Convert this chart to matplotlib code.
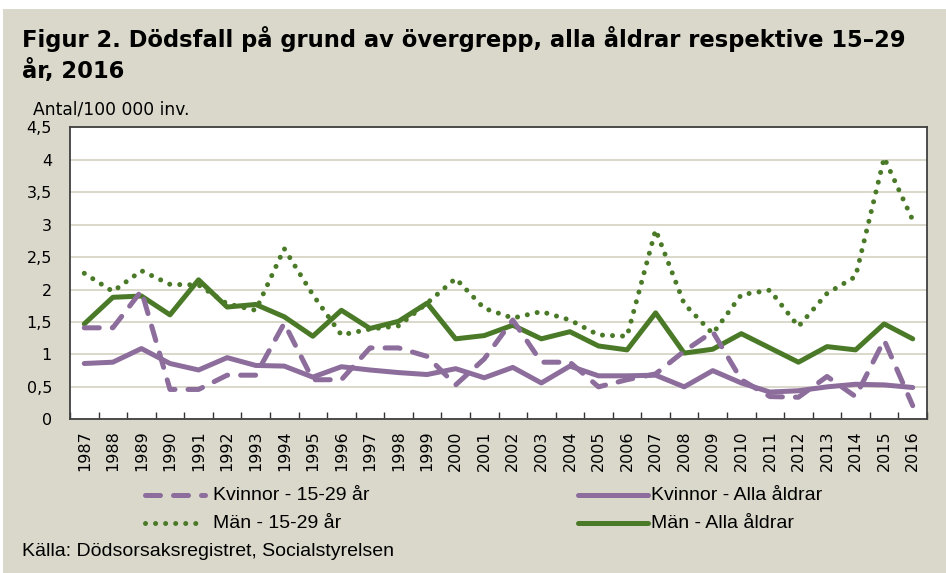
import matplotlib
matplotlib.use("Agg")
import matplotlib.pyplot as plt
from matplotlib.lines import Line2D
from matplotlib.patches import Rectangle
import numpy as np

years = [str(y) for y in range(1987, 2017)]

kvinnor_15_29 = [1.41, 1.41, 1.98, 0.46, 0.46, 0.68, 0.68, 1.48, 0.61, 0.61,
                 1.10, 1.10, 0.97, 0.53, 0.93, 1.53, 0.88, 0.88, 0.50, 0.61,
                 0.70, 1.05, 1.35, 0.61, 0.35, 0.34, 0.66, 0.35, 1.22, 0.21]
kvinnor_alla = [0.86, 0.88, 1.09, 0.86, 0.76, 0.95, 0.83, 0.82, 0.65, 0.81,
                0.76, 0.72, 0.69, 0.78, 0.64, 0.80, 0.56, 0.82, 0.67, 0.67,
                0.68, 0.50, 0.75, 0.56, 0.42, 0.44, 0.50, 0.54, 0.53, 0.49]
man_15_29 = [2.25, 1.97, 2.29, 2.08, 2.07, 1.78, 1.68, 2.63, 1.92, 1.30,
             1.39, 1.44, 1.79, 2.17, 1.71, 1.56, 1.66, 1.53, 1.30, 1.28,
             2.92, 1.78, 1.32, 1.92, 1.99, 1.43, 1.94, 2.20, 4.03, 3.07]
man_alla = [1.47, 1.88, 1.90, 1.61, 2.15, 1.73, 1.77, 1.58, 1.28, 1.68,
            1.40, 1.51, 1.79, 1.24, 1.29, 1.45, 1.24, 1.35, 1.13, 1.07,
            1.64, 1.02, 1.08, 1.32, 1.10, 0.88, 1.12, 1.07, 1.47, 1.24]

yticks = [0, 0.5, 1, 1.5, 2, 2.5, 3, 3.5, 4, 4.5]
ytick_labels = ["0", "0,5", "1", "1,5", "2", "2,5", "3", "3,5", "4", "4,5"]

labels = ["Kvinnor - 15-29 år", "Kvinnor - Alla åldrar", "Män - 15-29 år", "Män - Alla åldrar"]

PURPLE = "#8C6D9C"
GREEN = "#4A7A28"
BG = "#DAD8CB"
GRID = "#D8D5C6"

W, H = 946, 573
fig = plt.figure(figsize=(W / 100, H / 100), dpi=100)
fig.patch.set_facecolor("white")
fig.patches.append(Rectangle((3 / W, 0), 1, 1 - 9 / H, transform=fig.transFigure,
                             facecolor=BG, edgecolor="none", zorder=-10))

ax = fig.add_axes([70 / W, 1 - 419.3 / H, (927 - 70) / W, (419.3 - 127.3) / H])
ax.set_facecolor("white")
x = np.arange(len(years))

lw = 3.6
DASH = (3, 2.6)
DOT = (0.01, 2.0)
ax.plot(x, kvinnor_alla, color=PURPLE, lw=lw, solid_capstyle="round", solid_joinstyle="round", zorder=3)
ax.plot(x, man_alla, color=GREEN, lw=lw, solid_capstyle="round", solid_joinstyle="round", zorder=4)
ax.plot(x, kvinnor_15_29, color=PURPLE, lw=lw, dashes=DASH, dash_capstyle="round", zorder=5)
ax.plot(x, man_15_29, color=GREEN, lw=lw, dashes=DOT, dash_capstyle="round", zorder=6)

ax.set_xlim(-0.5, len(years) - 0.5)
ax.set_ylim(0, 4.5)
ax.set_yticks(yticks)
ax.set_yticklabels(ytick_labels)
ax.set_xticks(x)
ax.set_xticklabels(years, rotation=90)
ax.set_xticks(np.arange(len(years) + 1) - 0.5, minor=True)
ax.tick_params(axis="x", which="major", length=0, pad=8, labelsize=11.5, labelcolor="black")
ax.tick_params(axis="x", which="minor", length=5, direction="in", width=1, color="#333333")
ax.tick_params(axis="y", which="major", length=0, pad=13, labelsize=11.5, labelcolor="black")
ax.grid(axis="y", color=GRID, lw=1.3, zorder=0)
ax.set_axisbelow(True)
for s in ax.spines.values():
    s.set_color("#404040")
    s.set_linewidth(1.3)
for t in ax.get_xticklabels() + ax.get_yticklabels():
    t.set_family(["DejaVu Sans"])

title_font = ["DejaVu Sans"]
fig.text(22 / W, 1 - 47 / H, "Figur 2. Dödsfall på grund av övergrepp, alla åldrar respektive 15–29",
         fontsize=16.3, fontweight="bold", family=title_font, va="baseline", ha="left")
fig.text(22 / W, 1 - 78 / H, "år, 2016",
         fontsize=16.3, fontweight="bold", family=title_font, va="baseline", ha="left")
fig.text(33 / W, 1 - 115 / H, "Antal/100 000 inv.", fontsize=12.3, family=["DejaVu Sans"],
         va="baseline", ha="left")

lab_font = ["Liberation Sans", "DejaVu Sans"]
leg_items = [
    (145, 205, 213, 495, PURPLE, dict(dashes=DASH, dash_capstyle="round"), labels[0]),
    (578, 648, 651, 495, PURPLE, dict(solid_capstyle="round"), labels[1]),
    (145, 205, 213, 523, GREEN, dict(dashes=DOT, dash_capstyle="round"), labels[2]),
    (578, 648, 651, 523, GREEN, dict(solid_capstyle="round"), labels[3]),
]
for x0, x1, tx, yy, col, style, lab in leg_items:
    fig.add_artist(Line2D([x0 / W, x1 / W], [1 - yy / H, 1 - yy / H], transform=fig.transFigure,
                          color=col, lw=lw, **style))
    fig.text(tx / W, 1 - yy / H, lab, fontsize=14, family=lab_font, va="center", ha="left")

fig.text(22 / W, 1 - 556 / H, "Källa: Dödsorsaksregistret, Socialstyrelsen", fontsize=14,
         family=lab_font, va="baseline", ha="left")

fig.savefig("out.png", dpi=100, facecolor=fig.get_facecolor())
